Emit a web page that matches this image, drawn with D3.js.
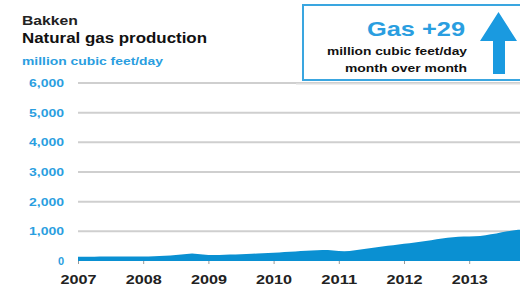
<!DOCTYPE html>
<html><head><meta charset="utf-8">
<script src="https://cdn.jsdelivr.net/npm/d3@7"></script>
<style>
html,body{margin:0;padding:0;background:#fff;}
svg{display:block;font-family:"Liberation Sans",Arial,sans-serif;}
</style></head>
<body>
<svg id="c" width="520" height="287"></svg>
<script>
// Monthly Bakken natural gas production, million cubic feet/day, Jan 2007 onward
const startYear = 2007;
const gasValues = [
  140,140,145,145,150,150,150,150,155,155,155,155,
  155,155,160,165,175,185,200,215,235,250,240,215,
  200,200,205,210,215,220,225,235,245,250,260,270,
  280,290,300,310,320,335,345,355,365,375,370,350,
  335,330,340,360,385,410,440,465,490,510,530,555,
  580,600,620,645,670,700,730,760,785,800,815,825,
  830,835,840,870,900,930,965,1000,1030,1050,1070,1090
];
const yTicks = [0,1000,2000,3000,4000,5000,6000];
const yearTicks = [2007,2008,2009,2010,2011,2012,2013];
const titleLines = ["Bakken","Natural gas production"];
const unitLabel = "million cubic feet/day";
const changeLabel = "Gas +29";
const changeLines = ["million cubic feet/day","month over month"];

const blue = "#0a90d2";
const labelBlue = "#2a9ee0";
const svg = d3.select("#c");

const x = d3.scaleLinear().domain([2007, 2008]).range([78, 143.2]);
const y = d3.scaleLinear().domain([0, 6000]).range([261, 83]);

const data = gasValues.map((v,i)=>({t: startYear + i/12, v}));

// helper: text stretched to a measured width
function stretch(sel, w){
  sel.attr("textLength", w).attr("lengthAdjust","spacingAndGlyphs");
  return sel;
}

// gridlines
svg.append("g").selectAll("line").data(yTicks.filter(d=>d>0)).join("line")
  .attr("x1", 78).attr("x2", 520)
  .attr("y1", d=>y(d)).attr("y2", d=>y(d))
  .attr("stroke", "#cfcfcf").attr("stroke-width", 2);

// area
svg.append("clipPath").attr("id","pc").append("rect")
  .attr("x",78).attr("y",0).attr("width",442).attr("height",262);
svg.append("path").datum(data)
  .attr("clip-path","url(#pc)")
  .attr("fill", blue)
  .attr("d", d3.area().x(d=>x(d.t)).y0(y(0)).y1(d=>y(d.v)));

// y axis labels
svg.append("g").selectAll("text").data(yTicks).join("text")
  .attr("x", 64).attr("y", d=>y(d)+4)
  .attr("text-anchor","end")
  .attr("font-size", 11).attr("font-weight","bold")
  .attr("fill", labelBlue)
  .text(d=>d3.format(",")(d))
  .each(function(d){ if(d>0) d3.select(this).attr("textLength",35).attr("lengthAdjust","spacingAndGlyphs"); });

// x axis ticks & labels
const xa = svg.append("g").attr("transform", `translate(0,${y(0)})`)
  .call(d3.axisBottom(x).tickValues(yearTicks).tickFormat(d3.format("d")).tickSize(3).tickPadding(11));
xa.select(".domain").remove();
xa.selectAll(".tick line").attr("stroke","#999");
xa.selectAll("text").attr("font-size",12).attr("font-weight","bold").attr("fill","#222")
  .attr("font-family","Liberation Sans, Arial, sans-serif")
  .attr("textLength",36).attr("lengthAdjust","spacingAndGlyphs");

// titles
stretch(svg.append("text").attr("x",22).attr("y",24.5).attr("font-size",12.5).attr("font-weight","bold")
  .attr("fill","#222").text(titleLines[0]), 56);
stretch(svg.append("text").attr("x",22).attr("y",43).attr("font-size",14).attr("font-weight","bold")
  .attr("fill","#111").text(titleLines[1]), 185);
stretch(svg.append("text").attr("x",22).attr("y",64.5).attr("font-size",11).attr("font-weight","bold")
  .attr("fill",labelBlue).text(unitLabel), 141);

// callout box
svg.append("rect").attr("x",296).attr("y",83).attr("width",230).attr("height",1.5).attr("fill","#ddd");
svg.append("rect").attr("x",303).attr("y",5).attr("width",225).attr("height",75)
  .attr("fill","#fff").attr("stroke","#3aa6e0").attr("stroke-width",2);
stretch(svg.append("text").attr("x",367).attr("y",35.5)
  .attr("font-size",21).attr("font-weight","bold").attr("fill",labelBlue).text(changeLabel), 98);
stretch(svg.append("text").attr("x",327).attr("y",54.5)
  .attr("font-size",10).attr("font-weight","bold").attr("fill","#111").text(changeLines[0]), 140);
stretch(svg.append("text").attr("x",345).attr("y",71.5)
  .attr("font-size",10).attr("font-weight","bold").attr("fill","#111").text(changeLines[1]), 122);
// arrow
svg.append("path").attr("fill","#1a9ae0")
  .attr("d","M480,41 L498.5,12 L517,41 L505,41 L505,74 L493,74 L493,41 Z");
</script>
</body></html>
